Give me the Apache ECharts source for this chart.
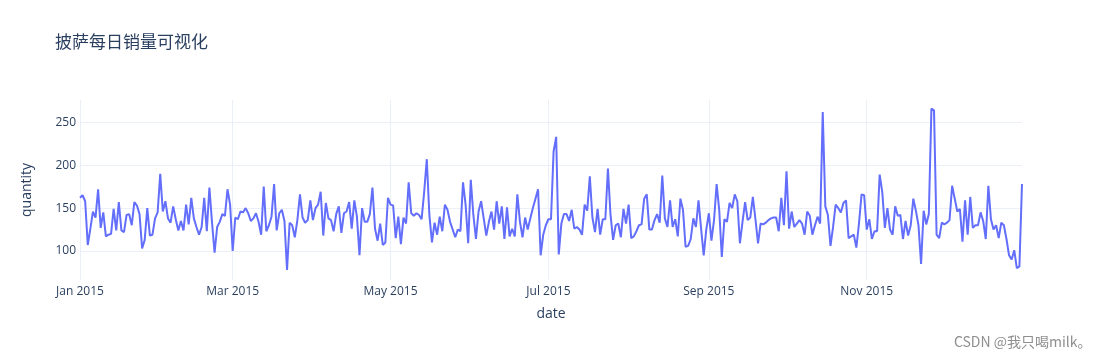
<!DOCTYPE html>
<html>
<head>
<meta charset="utf-8">
<script src="https://cdn.jsdelivr.net/npm/echarts@6/dist/echarts.min.js"></script>
<style>
html,body{margin:0;padding:0;background:#fff;}
#chart{width:1102px;height:360px;}
</style>
</head>
<body>
<div id="chart"></div>
<script>
// Daily pizza quantity, 2015-01-01 .. 2015-12-31
var startDate = [2015, 0, 1];
var quantity = [
162,165,158,107,126,146,139,172,127,145,117,119,120,149,124,157,124,122,142,143,
130,157,153,143,103,113,150,118,119,138,145,190,146,158,138,133,152,137,124,135,
124,154,131,162,138,128,119,128,162,123,174,134,98,128,134,143,141,172,154,100,
139,137,146,145,150,144,135,138,144,134,119,175,123,130,140,178,124,144,148,135,
78,133,130,116,136,166,139,133,136,159,136,150,154,169,118,156,138,136,123,143,
152,121,144,146,157,126,159,140,95,150,134,134,143,174,126,112,132,107,110,162,
154,153,115,140,108,139,132,180,144,141,144,142,137,169,207,142,110,133,119,140,
123,154,148,134,125,116,125,123,180,154,109,183,142,114,146,158,138,118,134,146,
125,158,132,152,114,151,117,126,117,166,134,116,139,125,138,150,161,172,95,119,
130,137,137,216,233,96,132,143,143,135,148,126,128,125,119,154,147,187,139,122,
149,119,137,137,196,142,113,130,132,116,149,132,154,115,117,123,130,131,161,166,
125,125,136,143,133,188,138,128,159,128,137,117,161,148,105,106,114,138,128,159,
126,95,125,144,112,136,178,148,93,137,134,156,150,166,158,109,134,157,136,139,
163,137,109,132,131,133,136,138,139,139,123,162,130,193,126,146,128,132,136,132,
119,146,141,119,130,140,132,262,152,142,106,128,154,150,145,156,159,115,117,119,
104,132,166,165,125,137,114,123,123,189,169,127,150,125,119,152,141,142,114,135,
118,130,161,147,130,85,147,131,143,266,264,119,115,133,131,133,136,176,161,146,
149,111,159,119,163,127,130,130,145,135,114,176,137,125,130,115,133,130,114,95,
90,101,80,82,178
];
var tickDates = [[2015,0,1],[2015,2,1],[2015,4,1],[2015,6,1],[2015,8,1],[2015,10,1]];
var tickLabels = ['Jan 2015','Mar 2015','May 2015','Jul 2015','Sep 2015','Nov 2015'];
var yTicks = [100, 150, 200, 250];
var titleText = '披萨每日销量可视化';
var xName = 'date';
var yName = 'quantity';
var watermark = 'CSDN @我只喝milk。';

var DAY = 86400000;
function ts(a){ return Date.UTC(a[0], a[1], a[2]); }
var t0 = ts(startDate);
var seriesData = quantity.map(function(v, i){ return [t0 + i * DAY, v]; });
var tickTs = tickDates.map(ts);
function labelFor(v){
  for (var i = 0; i < tickTs.length; i++) { if (Math.abs(tickTs[i] - v) < 1000) return tickLabels[i]; }
  return '';
}

var font = '"Open Sans", "Noto Sans CJK SC", sans-serif';
var txt = '#2a3f5f';
var grid = '#ebf0f8';

var chart = echarts.init(document.getElementById('chart'), null, {renderer: 'canvas'});
chart.setOption({
  animation: false,
  backgroundColor: '#fff',
  title: {
    text: titleText, left: 55, top: 35, padding: 0,
    textStyle: {fontFamily: font, fontSize: 17, fontWeight: 'normal', color: txt}
  },
  grid: {left: 80, right: 80, top: 100, bottom: 80, containLabel: false},
  xAxis: {
    type: 'value',
    min: seriesData[0][0],
    max: seriesData[seriesData.length - 1][0],
    name: xName, nameLocation: 'middle', nameGap: 27,
    nameTextStyle: {fontFamily: font, fontSize: 14, color: txt},
    axisLine: {show: false},
    axisTick: {show: false, customValues: tickTs},
    axisLabel: {
      customValues: tickTs, margin: 6, fontFamily: font, fontSize: 12, color: txt,
      formatter: function(v){ return labelFor(v); }
    },
    splitLine: {show: true, lineStyle: {color: grid, width: 1}}
  },
  yAxis: {
    type: 'value', min: 66.2, max: 276,
    name: yName, nameLocation: 'middle', nameGap: 46, nameRotate: 90,
    nameTextStyle: {fontFamily: font, fontSize: 14, color: txt},
    axisLine: {show: false},
    axisTick: {show: false, customValues: yTicks},
    axisLabel: {customValues: yTicks, margin: 4, fontFamily: font, fontSize: 12, color: txt},
    splitLine: {show: true, lineStyle: {color: grid, width: 1}}
  },
  series: [{
    type: 'line', data: seriesData, showSymbol: false, symbol: 'none',
    lineStyle: {color: '#636efa', width: 2}, itemStyle: {color: '#636efa'}
  }],
  graphic: [{
    type: 'text', right: 10, top: 334,
    style: {text: watermark, font: '14px "Noto Sans CJK SC", sans-serif', fill: '#8f8f8f',
            stroke: '#ffffff', lineWidth: 1}
  }]
});
</script>
</body>
</html>
